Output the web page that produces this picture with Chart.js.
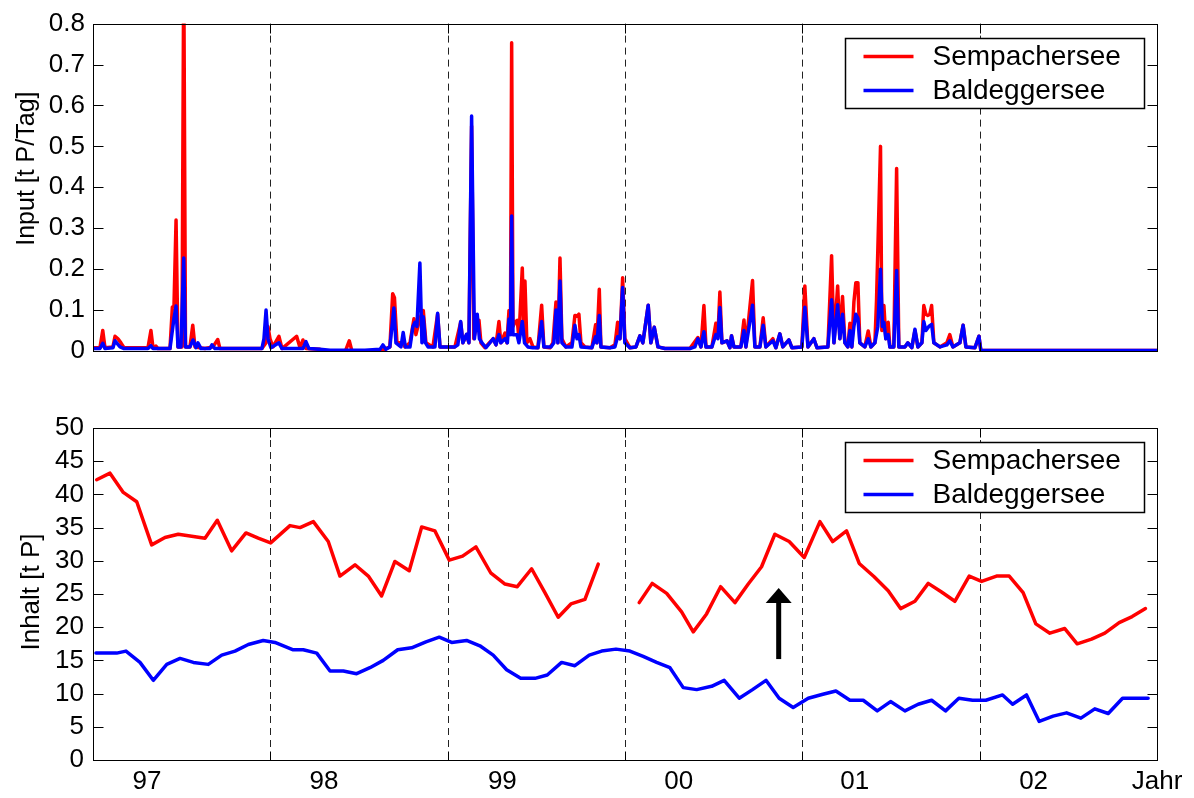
<!DOCTYPE html>
<html>
<head>
<meta charset="utf-8">
<script src="https://cdn.jsdelivr.net/npm/chart.js@4.4.1/dist/chart.umd.min.js"></script>
<style>
html,body{margin:0;padding:0;background:#fff;}
#wrap{position:relative;width:1194px;height:798px;overflow:hidden;}
canvas{position:absolute;left:0;}
#c1{top:0;}
#c2{top:380px;}
</style>
</head>
<body>
<div id="wrap">
<canvas id="c1" width="1194" height="380"></canvas>
<canvas id="c2" width="1194" height="418"></canvas>
</div>
<script>
// ---- DATA (x in months from axis start; axis spans 6 years = 72 months) ----
const seriesNames = ['Sempachersee', 'Baldeggersee'];
const yearBoundaries = [12, 24, 36, 48, 60];
const yearLabelPos = [3.65, 15.63, 27.7, 39.63, 51.55, 63.65, 72];
const yearLabels = ['97', '98', '99', '00', '01', '02', 'Jahr'];
const inputTicks = [0, 0.1, 0.2, 0.3, 0.4, 0.5, 0.6, 0.7, 0.8];
const inhaltTicks = [0, 5, 10, 15, 20, 25, 30, 35, 40, 45, 50];

// Input [t P/Tag] – Sempachersee
const sempInput = [[0,0.008],[0.47,0.008],[0.66,0.05],[0.81,0.008],[1.35,0.01],[1.49,0.036],[1.69,0.03],[1.89,0.02],[2.10,0.008],[3.72,0.008],[3.92,0.05],[4.06,0.008],[4.26,0.012],[4.40,0.006],[5.21,0.006],[5.37,0.107],[5.48,0.11],[5.62,0.32],[5.75,0.01],[6.02,0.01],[6.14,0.95],[6.26,0.01],[6.56,0.01],[6.75,0.063],[6.90,0.01],[7.58,0.006],[8.12,0.01],[8.44,0.028],[8.59,0.006],[11.43,0.006],[11.71,0.02],[11.84,0.06],[11.98,0.03],[12.18,0.01],[12.58,0.036],[12.79,0.006],[13.78,0.036],[14.01,0.008],[14.21,0.027],[14.41,0.006],[15.36,0.004],[16.04,-0.003],[17.05,-0.003],[17.34,0.025],[17.52,0.0],[18.40,-0.004],[19.42,0.0],[20.09,0.01],[20.28,0.14],[20.40,0.13],[20.57,0.02],[20.97,0.02],[21.11,0.01],[21.45,0.02],[21.72,0.079],[21.85,0.04],[22.12,0.08],[22.35,0.099],[22.53,0.02],[23.00,0.01],[23.32,0.09],[23.48,0.01],[24.49,0.01],[24.88,0.07],[25.03,0.02],[25.28,0.04],[25.44,0.02],[25.62,0.55],[25.77,0.03],[25.98,0.07],[26.12,0.075],[26.25,0.02],[26.52,0.008],[27.08,0.03],[27.27,0.015],[27.47,0.072],[27.60,0.02],[27.88,0.044],[28.01,0.02],[28.15,0.099],[28.25,0.06],[28.33,0.753],[28.42,0.06],[28.55,0.07],[28.71,0.075],[28.82,0.03],[29.05,0.203],[29.16,0.05],[29.23,0.171],[29.36,0.02],[29.57,0.03],[29.77,0.01],[30.11,0.008],[30.36,0.112],[30.51,0.01],[30.92,0.008],[31.12,0.02],[31.33,0.12],[31.46,0.02],[31.60,0.227],[31.73,0.03],[32.00,0.01],[32.41,0.02],[32.61,0.087],[32.75,0.085],[32.88,0.09],[33.02,0.02],[33.29,0.01],[33.76,0.008],[34.01,0.064],[34.10,0.02],[34.26,0.151],[34.37,0.01],[34.98,0.008],[35.32,0.015],[35.50,0.07],[35.66,0.03],[35.84,0.179],[35.99,0.03],[36.33,0.008],[36.74,0.01],[37.01,0.037],[37.21,0.02],[37.57,0.112],[37.75,0.02],[37.98,0.058],[38.23,0.01],[38.70,0.006],[40.39,0.006],[40.93,0.033],[41.14,0.01],[41.34,0.111],[41.48,0.01],[41.88,0.01],[42.15,0.068],[42.29,0.04],[42.42,0.144],[42.56,0.02],[42.90,0.025],[43.10,0.008],[43.21,0.037],[43.37,0.01],[43.84,0.01],[44.05,0.076],[44.18,0.01],[44.63,0.172],[44.79,0.01],[45.13,0.01],[45.35,0.081],[45.53,0.01],[46.01,0.03],[46.21,0.008],[46.48,0.042],[46.68,0.01],[47.09,0.027],[47.29,0.008],[47.97,0.01],[48.17,0.159],[48.38,0.01],[48.78,0.03],[48.99,0.008],[49.73,0.01],[49.98,0.233],[50.14,0.02],[50.39,0.159],[50.54,0.03],[50.72,0.133],[50.88,0.02],[51.08,0.01],[51.22,0.068],[51.35,0.01],[51.49,0.12],[51.62,0.167],[51.76,0.167],[51.89,0.02],[52.23,0.01],[52.46,0.049],[52.64,0.01],[52.91,0.02],[53.02,0.123],[53.29,0.50],[53.38,0.05],[53.52,0.111],[53.65,0.03],[53.81,0.07],[53.92,0.01],[54.19,0.01],[54.38,0.446],[54.53,0.01],[54.94,0.01],[55.14,0.02],[55.41,0.008],[55.62,0.05],[55.82,0.01],[56.09,0.02],[56.22,0.111],[56.36,0.09],[56.50,0.087],[56.63,0.09],[56.75,0.111],[56.90,0.02],[57.31,0.01],[57.78,0.02],[57.98,0.04],[58.19,0.01],[58.66,0.02],[58.88,0.063],[59.07,0.01],[59.68,0.008],[59.95,0.036],[60.08,0.001],[72,0.001]];

// Input [t P/Tag] – Baldeggersee
const baldInput = [[0,0.006],[0.47,0.006],[0.66,0.019],[0.81,0.006],[1.35,0.008],[1.49,0.025],[1.83,0.01],[2.10,0.006],[3.72,0.006],[3.92,0.013],[4.06,0.006],[5.21,0.006],[5.48,0.08],[5.62,0.11],[5.75,0.01],[5.95,0.01],[6.14,0.227],[6.26,0.01],[6.56,0.01],[6.77,0.027],[6.97,0.008],[7.10,0.02],[7.31,0.006],[7.92,0.006],[8.05,0.015],[8.25,0.006],[11.43,0.006],[11.57,0.03],[11.71,0.10],[11.84,0.03],[12.04,0.008],[12.58,0.02],[12.79,0.006],[14.21,0.006],[14.41,0.023],[14.61,0.006],[15.36,0.004],[16.04,0.002],[18.40,0.002],[19.42,0.004],[19.62,0.015],[19.82,0.004],[20.09,0.01],[20.36,0.105],[20.50,0.02],[20.84,0.01],[20.99,0.045],[21.14,0.01],[21.45,0.01],[21.65,0.06],[21.79,0.07],[21.92,0.06],[22.12,0.215],[22.26,0.02],[22.35,0.084],[22.50,0.02],[22.67,0.01],[23.14,0.01],[23.32,0.092],[23.48,0.01],[24.49,0.01],[24.69,0.015],[24.88,0.072],[25.03,0.02],[25.28,0.041],[25.44,0.02],[25.62,0.574],[25.81,0.03],[26.00,0.09],[26.15,0.03],[26.32,0.02],[26.59,0.008],[27.08,0.03],[27.27,0.015],[27.47,0.04],[27.60,0.02],[27.88,0.03],[28.04,0.02],[28.15,0.078],[28.25,0.04],[28.33,0.33],[28.42,0.04],[28.69,0.04],[28.82,0.02],[29.05,0.072],[29.20,0.02],[29.43,0.01],[29.77,0.008],[30.11,0.008],[30.36,0.072],[30.51,0.01],[30.99,0.01],[31.19,0.02],[31.33,0.1],[31.46,0.02],[31.60,0.171],[31.73,0.02],[32.00,0.01],[32.41,0.01],[32.61,0.063],[32.75,0.03],[32.88,0.04],[33.02,0.01],[33.76,0.008],[34.01,0.035],[34.10,0.02],[34.26,0.087],[34.37,0.01],[34.98,0.008],[35.32,0.01],[35.50,0.035],[35.66,0.03],[35.84,0.155],[35.99,0.02],[36.33,0.008],[36.74,0.01],[37.01,0.037],[37.21,0.02],[37.57,0.112],[37.75,0.02],[37.98,0.058],[38.23,0.01],[38.70,0.006],[40.39,0.006],[40.73,0.01],[40.93,0.03],[41.14,0.01],[41.34,0.047],[41.48,0.01],[41.88,0.01],[42.15,0.04],[42.29,0.03],[42.42,0.106],[42.56,0.02],[42.90,0.025],[43.10,0.008],[43.21,0.037],[43.37,0.01],[43.84,0.01],[44.05,0.05],[44.18,0.01],[44.63,0.112],[44.79,0.01],[45.13,0.01],[45.35,0.063],[45.53,0.01],[46.01,0.025],[46.21,0.008],[46.48,0.042],[46.68,0.01],[47.09,0.027],[47.29,0.008],[47.97,0.01],[48.17,0.107],[48.38,0.01],[48.78,0.03],[48.99,0.008],[49.73,0.01],[49.98,0.125],[50.14,0.02],[50.39,0.113],[50.54,0.03],[50.72,0.09],[50.88,0.02],[51.08,0.01],[51.22,0.05],[51.35,0.01],[51.49,0.06],[51.62,0.09],[51.76,0.08],[51.89,0.02],[52.23,0.01],[52.46,0.03],[52.64,0.01],[52.91,0.02],[53.11,0.06],[53.29,0.20],[53.42,0.06],[53.52,0.07],[53.65,0.03],[53.81,0.04],[53.92,0.01],[54.19,0.01],[54.38,0.197],[54.53,0.01],[54.94,0.01],[55.14,0.02],[55.41,0.008],[55.62,0.053],[55.82,0.01],[56.09,0.02],[56.22,0.072],[56.36,0.05],[56.56,0.06],[56.75,0.065],[56.90,0.02],[57.31,0.01],[57.78,0.015],[57.98,0.025],[58.19,0.01],[58.66,0.02],[58.88,0.063],[59.07,0.01],[59.68,0.008],[59.95,0.036],[60.08,0.001],[72,0.001]];

// Inhalt [t P] – Sempachersee (null = missing measurements)
const sempInhalt = [[0.25,42.2],[1.15,43.2],[2.05,40.3],[2.96,38.9],[3.97,32.4],[4.87,33.5],[5.77,34.0],[6.68,33.7],[7.58,33.4],[8.41,36.1],[9.38,31.5],[10.35,34.2],[11.18,33.4],[12.02,32.7],[13.33,35.3],[14.01,35.0],[14.91,35.9],[15.92,32.9],[16.71,27.7],[17.73,29.4],[18.63,27.7],[19.53,24.7],[20.43,29.9],[21.40,28.5],[22.24,35.1],[23.14,34.5],[24.11,30.1],[25.01,30.7],[25.91,32.1],[26.91,28.2],[27.88,26.5],[28.71,26.1],[29.68,28.8],[30.58,25.2],[31.48,21.5],[32.34,23.5],[33.29,24.2],[34.19,29.5],[35.5,null],[36.96,23.7],[37.84,26.6],[38.82,25.1],[39.83,22.3],[40.62,19.3],[41.52,22.0],[42.47,26.1],[43.44,23.7],[44.34,26.5],[45.24,29.1],[46.14,34.0],[47.11,32.9],[48.13,30.5],[49.19,35.9],[50.05,32.9],[50.99,34.5],[51.85,29.6],[52.86,27.6],[53.81,25.5],[54.65,22.8],[55.62,23.9],[56.52,26.6],[57.42,25.3],[58.32,23.9],[59.29,27.7],[60.13,26.9],[61.14,27.7],[62.00,27.7],[62.94,25.2],[63.80,20.5],[64.75,19.1],[65.76,19.8],[66.60,17.5],[67.57,18.2],[68.47,19.1],[69.44,20.7],[70.32,21.6],[71.22,22.8]];

// Inhalt [t P] – Baldeggersee
const baldInhalt = [[0.2,16.1],[1.60,16.1],[2.23,16.4],[3.18,14.7],[4.08,12.0],[4.99,14.4],[5.89,15.3],[6.79,14.7],[7.80,14.4],[8.71,15.8],[9.61,16.4],[10.51,17.4],[11.52,18.0],[12.31,17.7],[13.55,16.6],[14.23,16.6],[15.14,16.1],[16.04,13.4],[16.94,13.4],[17.84,13.0],[18.74,13.9],[19.64,15.0],[20.62,16.6],[21.56,16.9],[22.53,17.8],[23.43,18.5],[24.27,17.7],[25.28,18.0],[26.18,17.2],[27.08,15.8],[27.99,13.6],[28.94,12.3],[29.91,12.3],[30.74,12.8],[31.71,14.7],[32.61,14.2],[33.58,15.8],[34.42,16.4],[35.39,16.7],[36.33,16.4],[37.23,15.6],[38.14,14.7],[39.04,13.9],[39.94,10.9],[40.85,10.6],[41.86,11.1],[42.71,12.0],[43.73,9.3],[44.63,10.6],[45.54,12.0],[46.43,9.3],[47.38,7.9],[48.40,9.3],[49.39,9.9],[50.27,10.4],[51.22,9.0],[52.12,9.0],[53.07,7.4],[53.97,8.8],[54.94,7.4],[55.84,8.4],[56.75,9.0],[57.69,7.4],[58.59,9.3],[59.52,9.0],[60.42,9.0],[61.55,9.8],[62.23,8.4],[63.17,9.8],[64.03,5.8],[64.97,6.6],[65.88,7.1],[66.85,6.3],[67.79,7.7],[68.70,7.0],[69.67,9.3],[70.57,9.3],[71.40,9.3]];

// Arrow annotation in lower panel: [x month, from value, to value]
const arrowAt = [46.4, 15.2, 25.9];

// ---- RENDERING ----
const FONT = '"Liberation Sans", Arial, Helvetica, sans-serif';
const RED = '#ff0000', BLUE = '#0000ff';
const toXY = arr => arr.map(p => ({x: p[0], y: p[1]}));

function drawDashed(chart) {
  const {ctx, chartArea: {top, bottom}, scales: {x}} = chart;
  ctx.save();
  ctx.strokeStyle = '#222';
  ctx.lineWidth = 1;
  ctx.setLineDash([7, 5]);
  yearBoundaries.forEach(m => {
    const px = Math.round(x.getPixelForValue(m)) + 0.5;
    ctx.beginPath(); ctx.moveTo(px, top); ctx.lineTo(px, bottom); ctx.stroke();
  });
  ctx.restore();
}
function drawFrame(chart, yTicks) {
  const {ctx, chartArea: {left, right, top, bottom}, scales: {x, y}} = chart;
  ctx.save();
  ctx.strokeStyle = '#000';
  ctx.lineWidth = 1;
  ctx.setLineDash([]);
  const L = Math.round(left) + 0.5, R = Math.round(right) + 0.5, T = Math.round(top) + 0.5, B = Math.round(bottom) + 0.5;
  ctx.strokeRect(L, T, R - L, B - T);
  ctx.beginPath();
  yTicks.forEach(v => {
    const py = Math.round(y.getPixelForValue(v)) + 0.5;
    ctx.moveTo(L, py); ctx.lineTo(L + 10, py);
    ctx.moveTo(R - 10, py); ctx.lineTo(R, py);
  });
  yearBoundaries.forEach(m => {
    const px = Math.round(x.getPixelForValue(m)) + 0.5;
    ctx.moveTo(px, B); ctx.lineTo(px, B - 9);
    ctx.moveTo(px, T); ctx.lineTo(px, T + 9);
  });
  ctx.stroke();
  ctx.restore();
}
function drawLegend(chart, boxTopOffset, rowGap) {
  const {ctx, chartArea: {right, top}} = chart;
  const w = 299, h = 70;
  const bx = Math.round(right - 13 - w) + 0.5, by = Math.round(top + boxTopOffset) + 0.5;
  ctx.save();
  ctx.fillStyle = '#fff';
  ctx.fillRect(bx, by, w, h);
  ctx.strokeStyle = '#000'; ctx.lineWidth = 1.5;
  ctx.strokeRect(bx, by, w, h);
  ctx.font = '28px ' + FONT;
  ctx.textBaseline = 'middle';
  ctx.textAlign = 'left';
  chart.data.datasets.forEach((ds, i) => {
    const ly = by + 18 + i * rowGap;
    ctx.strokeStyle = ds.borderColor; ctx.lineWidth = 3.5;
    ctx.beginPath(); ctx.moveTo(bx + 18, ly); ctx.lineTo(bx + 68, ly); ctx.stroke();
    ctx.fillStyle = '#000';
    ctx.fillText(ds.label, bx + 87, ly + 1);
  });
  ctx.restore();
}
function drawYTitle(chart, text, size, cx, cy) {
  const {ctx} = chart;
  ctx.save();
  ctx.translate(cx, cy);
  ctx.rotate(-Math.PI / 2);
  ctx.font = size + 'px ' + FONT;
  ctx.fillStyle = '#000';
  ctx.textAlign = 'center';
  ctx.textBaseline = 'middle';
  ctx.fillText(text, 0, 0);
  ctx.restore();
}

const topPlugin = {
  id: 'topDecor',
  beforeDatasetsDraw(chart) { drawDashed(chart); },
  afterDatasetsDraw(chart) { drawFrame(chart, inputTicks); },
  afterDraw(chart) {
    drawLegend(chart, 14, 34);
    const {top, bottom} = chart.chartArea;
    drawYTitle(chart, 'Input [t P/Tag]', 25, 27, top + (bottom - top) * 0.443);
  }
};
const bottomPlugin = {
  id: 'bottomDecor',
  beforeDatasetsDraw(chart) { drawDashed(chart); },
  afterDatasetsDraw(chart) {
    drawFrame(chart, inhaltTicks);
    const {ctx, scales: {x, y}} = chart;
    const ax = x.getPixelForValue(arrowAt[0]);
    const y0 = y.getPixelForValue(arrowAt[1]);
    const y1 = y.getPixelForValue(arrowAt[2]);
    ctx.save();
    ctx.fillStyle = '#000';
    ctx.fillRect(ax - 2.5, y1 + 12, 5, y0 - y1 - 12);
    ctx.beginPath();
    ctx.moveTo(ax, y1); ctx.lineTo(ax - 13, y1 + 15); ctx.lineTo(ax + 13, y1 + 15); ctx.closePath();
    ctx.fill();
    ctx.restore();
  },
  afterDraw(chart) {
    drawLegend(chart, 14, 34);
    const {top, bottom} = chart.chartArea;
    drawYTitle(chart, 'Inhalt [t P]', 26, 32, (top + bottom) / 2 - 2);
  }
};

const commonLine = {
  borderWidth: 3.5, pointRadius: 0, tension: 0, fill: false,
  borderJoinStyle: 'round', borderCapStyle: 'round', spanGaps: false
};

new Chart(document.getElementById('c1'), {
  type: 'line',
  data: {
    datasets: [
      Object.assign({label: seriesNames[0], data: toXY(sempInput), borderColor: RED, backgroundColor: RED, order: 1}, commonLine),
      Object.assign({label: seriesNames[1], data: toXY(baldInput), borderColor: BLUE, backgroundColor: BLUE, order: 0}, commonLine)
    ]
  },
  options: {
    responsive: false, animation: false, devicePixelRatio: 1,
    layout: {padding: {top: 19, right: 37, left: 0, bottom: 0}},
    plugins: {legend: {display: false}, tooltip: {enabled: false}},
    scales: {
      x: {
        type: 'linear', min: 0, max: 72,
        ticks: {display: false},
        grid: {display: false, drawTicks: false},
        border: {display: false},
        afterFit: s => { s.height = 29; }
      },
      y: {
        min: 0, max: 0.8,
        afterBuildTicks: s => { s.ticks = inputTicks.map(v => ({value: v})); },
        ticks: {
          font: {family: FONT, size: 26}, color: '#000', padding: 8, autoSkip: false,
          callback: v => (v === 0 ? '0' : Number(v).toFixed(1))
        },
        grid: {display: false, drawTicks: false},
        border: {display: false},
        title: {display: false},
        afterFit: s => { s.width = 93; }
      }
    }
  },
  plugins: [topPlugin]
});

new Chart(document.getElementById('c2'), {
  type: 'line',
  data: {
    datasets: [
      Object.assign({label: seriesNames[0], data: toXY(sempInhalt), borderColor: RED, backgroundColor: RED, order: 1}, commonLine),
      Object.assign({label: seriesNames[1], data: toXY(baldInhalt), borderColor: BLUE, backgroundColor: BLUE, order: 0}, commonLine)
    ]
  },
  options: {
    responsive: false, animation: false, devicePixelRatio: 1,
    layout: {padding: {top: 48, right: 37, left: 0, bottom: 0}},
    plugins: {legend: {display: false}, tooltip: {enabled: false}},
    scales: {
      x: {
        type: 'linear', min: 0, max: 72,
        afterBuildTicks: s => { s.ticks = yearLabelPos.map(v => ({value: v})); },
        ticks: {
          font: {family: FONT, size: 26}, color: '#000', padding: 6,
          autoSkip: false, maxRotation: 0,
          callback: (v, i) => yearLabels[i]
        },
        grid: {display: false, drawTicks: false},
        border: {display: false},
        afterFit: s => { s.height = 38; }
      },
      y: {
        min: 0, max: 50,
        afterBuildTicks: s => { s.ticks = inhaltTicks.map(v => ({value: v})); },
        ticks: {font: {family: FONT, size: 26}, color: '#000', padding: 9, autoSkip: false},
        grid: {display: false, drawTicks: false},
        border: {display: false},
        title: {display: false},
        afterFit: s => { s.width = 93; }
      }
    }
  },
  plugins: [bottomPlugin]
});
</script>
</body>
</html>
